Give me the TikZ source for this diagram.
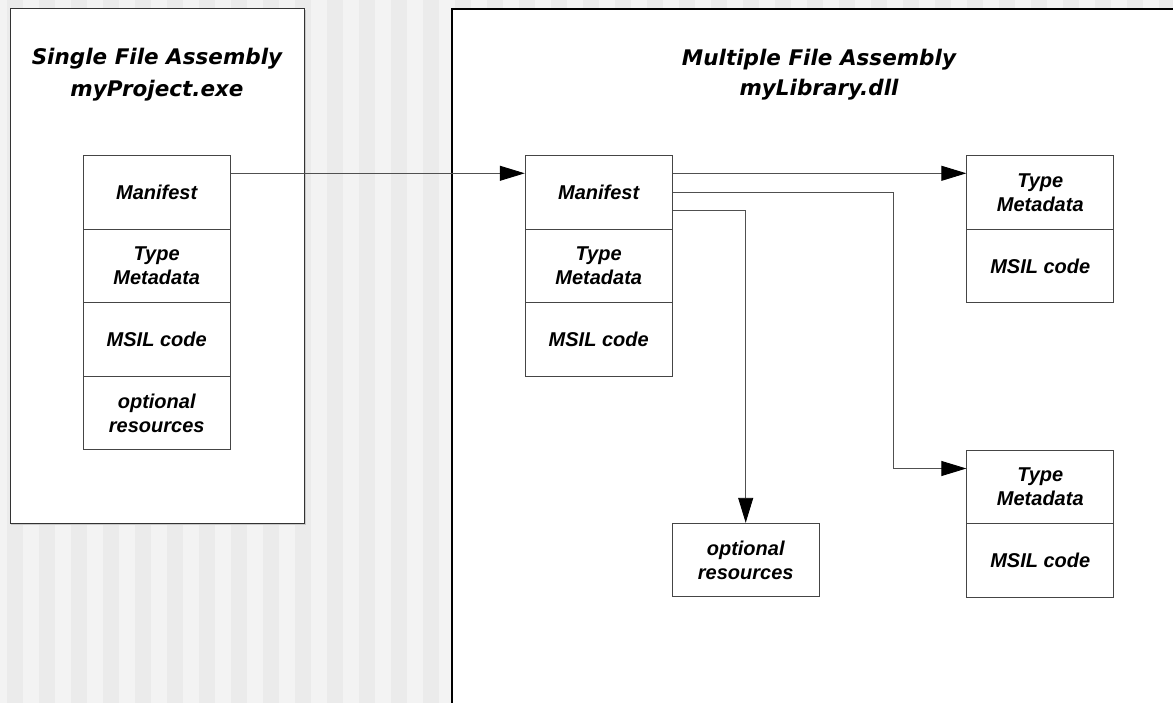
\documentclass[tikz,border=0pt]{standalone}
\usepackage{fontspec}
\setmainfont{Liberation Sans}
\newfontfamily\titlefont{DejaVu Sans}
\usetikzlibrary{arrows.meta}
\definecolor{stripeA}{HTML}{EBEBEB}
\definecolor{stripeB}{HTML}{F3F3F3}
\definecolor{boxline}{HTML}{454545}
\definecolor{conline}{HTML}{505050}
\definecolor{shadowc}{HTML}{C8C8C8}
\begin{document}
\begin{tikzpicture}[x=1pt,y=-1pt,
  cell/.style={draw=boxline, line width=0.9pt, fill=white, minimum width=147pt,
    minimum height=73.5pt, inner sep=0pt, align=center,
    font=\fontsize{20}{24}\selectfont\bfseries\itshape},
  title/.style={anchor=base, inner sep=0pt,
    font=\titlefont\fontsize{21.5}{26}\selectfont\bfseries\itshape},
  conn/.style={draw=conline, line width=0.9pt,
    -{Triangle[length=25pt,width=15pt,color=black]}},
  container/.style={inner sep=0pt, fill=white, anchor=north west}
  ]
\useasboundingbox (0,0) rectangle (1173,703);
\clip (0,0) rectangle (1173,703);
% striped background
\fill[stripeB] (0,0) rectangle (1173,703);
\foreach \i in {0,...,36} {
  \fill[stripeA] ({6.7+32*\i},0) rectangle ({22.7+32*\i},703);
}
% containers
\fill[shadowc] (11.2,10) rectangle (306,525);
\node[container, draw=black!80, line width=1.1pt, minimum width=294.8pt, minimum height=515pt] (single) at (9.5,8.3) {};
\node[container, draw=black, line width=1.5pt, minimum width=800pt, minimum height=800pt] (multi) at (451.3,8.3) {};
% titles
\node[title] (st1) at (157,65) {Single File Assembly};
\node[title] (st2) at (157,96.7) {myProject.exe};
\node[title] (mt1) at (819,66) {Multiple File Assembly};
\node[title] (mt2) at (819,95.5) {myLibrary.dll};
% left stack
\node[cell] (lman)  at (156.7,192.5) {Manifest};
\node[cell] (lmeta) at (156.7,266) {Type\\Metadata};
\node[cell] (lmsil) at (156.7,339.5) {MSIL code};
\node[cell] (lopt)  at (156.7,413) {optional\\resources};
% middle stack
\node[cell] (mman)  at (598.7,192.5) {Manifest};
\node[cell] (mmeta) at (598.7,266) {Type\\Metadata};
\node[cell] (mmsil) at (598.7,339.5) {MSIL code};
% right modules
\node[cell] (rmeta1) at (1040.3,192.5) {Type\\Metadata};
\node[cell] (rmsil1) at (1040.3,266) {MSIL code};
\node[cell] (rmeta2) at (1040.3,486.7) {Type\\Metadata};
\node[cell] (rmsil2) at (1040.3,560.2) {MSIL code};
% optional resources
\node[cell] (mopt) at (745.7,560) {optional\\resources};
% connectors
\draw[conn] ([yshift=19.2pt]lman.east) -- ([yshift=19.2pt]mman.west);
\draw[conn] ([yshift=19.2pt]mman.east) -- ([yshift=19.2pt]rmeta1.west);
\draw[conn] (mman.east) -- ++(220.5,0) |- ([yshift=18.2pt]rmeta2.west);
\draw[conn] ([yshift=-18.2pt]mman.east) -| (mopt.north);
\end{tikzpicture}
\end{document}
